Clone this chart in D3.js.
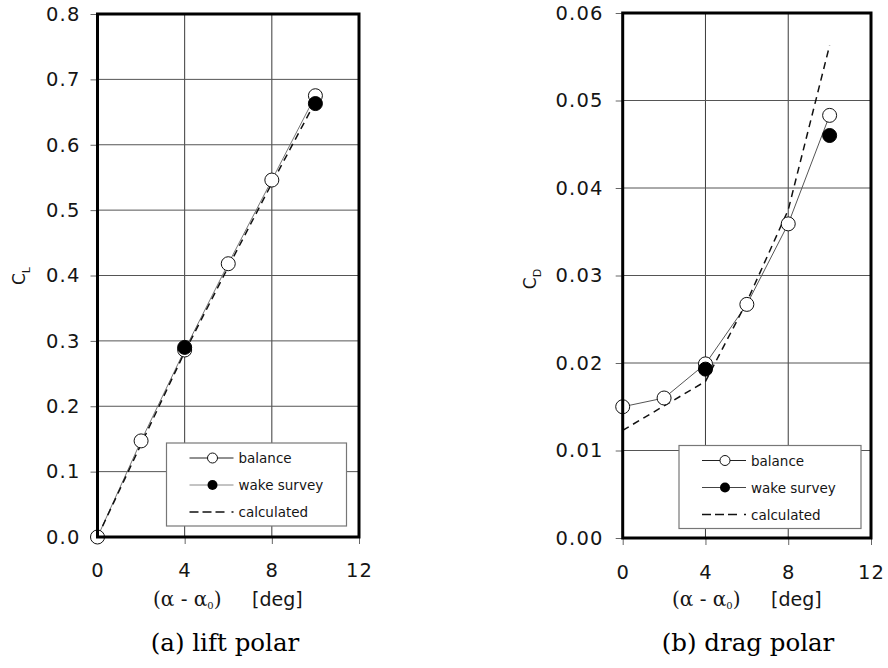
<!DOCTYPE html>
<html>
<head>
<meta charset="utf-8">
<script src="https://cdn.jsdelivr.net/npm/d3@7"></script>
<style>
  html, body { margin: 0; padding: 0; background: #fff; }
  svg { display: block; }
</style>
</head>
<body>
<svg id="chart" width="888" height="668"></svg>
<script>
// ---------------- data ----------------
const xTicks = [0, 4, 8, 12];
const xTickLabels = ["0", "4", "8", "12"];

const alpha = [0, 2, 4, 6, 8, 10];
const wakeAlpha = [4, 10];

// (a) lift polar
const liftTicks = [0, 0.1, 0.2, 0.3, 0.4, 0.5, 0.6, 0.7, 0.8];
const liftTickLabels = ["0.0", "0.1", "0.2", "0.3", "0.4", "0.5", "0.6", "0.7", "0.8"];
const liftBalance = [0.000, 0.147, 0.286, 0.418, 0.546, 0.675];
const liftWake = [0.290, 0.663];
const liftCalc = [0.000, 0.142, 0.283, 0.413, 0.541, 0.666];

// (b) drag polar
const dragTicks = [0, 0.01, 0.02, 0.03, 0.04, 0.05, 0.06];
const dragTickLabels = ["0.00", "0.01", "0.02", "0.03", "0.04", "0.05", "0.06"];
const dragBalance = [0.0150, 0.0160, 0.0199, 0.0267, 0.0359, 0.0483];
const dragWake = [0.0193, 0.0460];
const dragCalc = [0.0123, 0.0151, 0.0179, 0.0270, 0.0375, 0.0563];

const legendLabels = ["balance", "wake survey", "calculated"];

// ---------------- drawing ----------------
const svg = d3.select("#chart");
const SANS = "'DejaVu Sans', Verdana, sans-serif";
const SERIF = "'DejaVu Serif', serif";
const TXT = "#151515";

function panel(cfg) {
  const x = d3.scaleLinear().domain([0, 12]).range([cfg.x0, cfg.x1]);
  const y = d3.scaleLinear().domain([0, cfg.yMax]).range([cfg.y1, cfg.y0]);
  const g = svg.append("g");

  // gridlines
  g.append("g").selectAll("line").data(xTicks.filter(d => d > 0 && d < 12)).join("line")
    .attr("x1", d => x(d)).attr("x2", d => x(d))
    .attr("y1", cfg.y0).attr("y2", cfg.y1)
    .attr("stroke", "#3a3a3a").attr("stroke-width", 1);
  g.append("g").selectAll("line").data(cfg.yTicks.slice(1, -1)).join("line")
    .attr("x1", cfg.x0).attr("x2", cfg.x1)
    .attr("y1", d => y(d)).attr("y2", d => y(d))
    .attr("stroke", "#555").attr("stroke-width", 1);

  // axes
  const ax = g.append("g").attr("transform", `translate(0,${cfg.y1})`)
    .call(d3.axisBottom(x).tickValues(xTicks).tickFormat((d, i) => xTickLabels[i])
      .tickSize(7).tickPadding(cfg.xPad));
  const ay = g.append("g").attr("transform", `translate(${cfg.x0},0)`)
    .call(d3.axisLeft(y).tickValues(cfg.yTicks).tickFormat((d, i) => cfg.yTickLabels[i])
      .tickSize(7).tickPadding(cfg.yPad));
  [ax, ay].forEach(a => {
    a.select(".domain").remove();
    a.selectAll(".tick line").attr("stroke", "#666");
    a.selectAll(".tick text").attr("fill", TXT)
      .style("font-family", SANS).style("font-size", "19.5px")
      .style("letter-spacing", "1.2px");
  });

  // lines
  const line = d3.line().x(d => x(d[0])).y(d => y(d[1]));
  g.append("path").datum(alpha.map((a, i) => [a, cfg.balance[i]]))
    .attr("d", line).attr("fill", "none")
    .attr("stroke", cfg.balColor).attr("stroke-width", 1);
  g.append("path").datum(alpha.map((a, i) => [a, cfg.calc[i]]))
    .attr("d", line).attr("fill", "none")
    .attr("stroke", "#111").attr("stroke-width", 1.5)
    .attr("stroke-dasharray", "7,5");

  // markers
  g.append("g").selectAll("circle").data(alpha.map((a, i) => [a, cfg.balance[i]])).join("circle")
    .attr("cx", d => x(d[0])).attr("cy", d => y(d[1])).attr("r", 7)
    .attr("fill", "#fff").attr("stroke", "#111").attr("stroke-width", 1);
  g.append("g").selectAll("circle").data(wakeAlpha.map((a, i) => [a, cfg.wake[i]])).join("circle")
    .attr("cx", d => x(d[0])).attr("cy", d => y(d[1])).attr("r", 7)
    .attr("fill", "#000").attr("stroke", "#000").attr("stroke-width", 1);

  // legend
  const L = cfg.legend;
  const lg = g.append("g");
  lg.append("rect").attr("x", L.x).attr("y", L.y).attr("width", L.w).attr("height", L.h)
    .attr("fill", "#fff").attr("stroke", "#777").attr("stroke-width", 1.2);
  const rows = [L.y + 15, L.y + 42, L.y + 69];
  const lx0 = L.x + 23, lx1 = L.x + 67, lmx = L.x + 46;
  lg.append("line").attr("x1", lx0).attr("x2", lx1).attr("y1", rows[0]).attr("y2", rows[0])
    .attr("stroke", "#222").attr("stroke-width", 1);
  lg.append("circle").attr("cx", lmx).attr("cy", rows[0]).attr("r", 5)
    .attr("fill", "#fff").attr("stroke", "#111").attr("stroke-width", 1);
  lg.append("line").attr("x1", lx0).attr("x2", lx1).attr("y1", rows[1]).attr("y2", rows[1])
    .attr("stroke", cfg.wakeLegColor).attr("stroke-width", 1);
  lg.append("circle").attr("cx", lmx).attr("cy", rows[1]).attr("r", 5).attr("fill", "#000");
  lg.append("line").attr("x1", lx0).attr("x2", lx1).attr("y1", rows[2]).attr("y2", rows[2])
    .attr("stroke", "#111").attr("stroke-width", 1.5)
    .attr("stroke-dasharray", "9,4,9,4,9,7,2");
  lg.selectAll("text.leg").data(legendLabels).join("text").attr("class", "leg")
    .attr("x", L.x + 72).attr("y", (d, i) => rows[i] + 5)
    .attr("fill", TXT).style("font-family", SANS).style("font-size", "13.5px")
    .text(d => d);

  // frame
  g.append("rect").attr("x", cfg.x0).attr("y", cfg.y0)
    .attr("width", cfg.x1 - cfg.x0).attr("height", cfg.y1 - cfg.y0)
    .attr("fill", "none").attr("stroke", "#000").attr("stroke-width", 3);

  // y label
  const yl = g.append("text")
    .attr("transform", `translate(${cfg.ylx},${cfg.yly}) rotate(-90)`)
    .attr("text-anchor", "middle").attr("fill", TXT)
    .style("font-family", SANS).style("font-size", "17px");
  yl.append("tspan").text("C");
  yl.append("tspan").attr("dy", 5).style("font-size", "11px").text(cfg.sub);

  // x label
  const xl = g.append("text").attr("x", cfg.xlx).attr("y", 606).attr("fill", TXT)
    .style("font-family", SERIF).style("font-size", "20px");
  xl.append("tspan").text("(α - α");
  xl.append("tspan").attr("dy", 3).style("font-size", "10px").text("0");
  xl.append("tspan").attr("dy", -3).text(")");
  g.append("text").attr("x", cfg.xlx + 99).attr("y", 606).attr("fill", TXT)
    .style("font-family", SANS).style("font-size", "19px").text("[deg]");

  // title
  g.append("text").attr("x", cfg.tx).attr("y", 651).attr("text-anchor", "middle")
    .attr("fill", "#000").style("font-family", SERIF).style("font-size", "24.5px")
    .text(cfg.title);
}

panel({
  x0: 97.5, x1: 359, y0: 14, y1: 537, yMax: 0.8,
  yTicks: liftTicks, yTickLabels: liftTickLabels,
  balance: liftBalance, wake: liftWake, calc: liftCalc,
  balColor: "#777", wakeLegColor: "#888",
  xPad: 19, yPad: 10,
  legend: { x: 166.5, y: 443, w: 180, h: 83 },
  ylx: 25, yly: 276, sub: "L",
  xlx: 153, tx: 225, title: "(a) lift polar"
});

panel({
  x0: 622.7, x1: 871, y0: 13, y1: 538, yMax: 0.06,
  yTicks: dragTicks, yTickLabels: dragTickLabels,
  balance: dragBalance, wake: dragWake, calc: dragCalc,
  balColor: "#555", wakeLegColor: "#444",
  xPad: 20, yPad: 12,
  legend: { x: 679, y: 445.5, w: 182, h: 83 },
  ylx: 536, yly: 279, sub: "D",
  xlx: 672, tx: 748, title: "(b) drag polar"
});
</script>
</body>
</html>
